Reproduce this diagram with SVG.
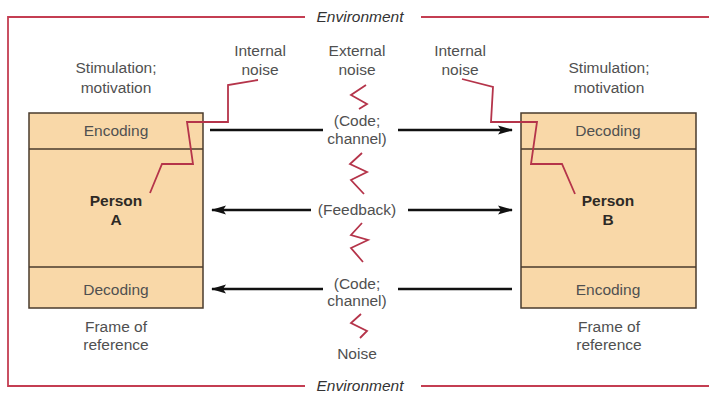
<svg xmlns="http://www.w3.org/2000/svg" width="709" height="393" viewBox="0 0 709 393">
<defs>
<style>
text{font-family:"Liberation Sans",Arial,sans-serif;font-size:15.5px;fill:#505050;text-anchor:middle}
.env{font-style:italic;fill:#333}
.bold{font-weight:bold;fill:#2e2a26}
.box{fill:#f9d8a8;stroke:#4a3b2c;stroke-width:1.5}
.div{stroke:#4a3b2c;stroke-width:1.5}
.red{fill:none;stroke:#b5344a;stroke-width:1.8;stroke-linejoin:miter}
.envl{fill:none;stroke:#c43e52;stroke-width:1.8}
.arr{stroke:#111;stroke-width:2.5;fill:none}
</style>
<marker id="ah" markerWidth="16" markerHeight="10" refX="14" refY="5" orient="auto" markerUnits="userSpaceOnUse">
<path d="M0,0.5 L15,5 L0,9.5 L3,5 z" fill="#111"/>
</marker>
</defs>
<rect width="709" height="393" fill="#fff"/>

<g id="environment">
<path class="envl" d="M305,17 L8,17 L8,386 L305,386"/>
<path class="envl" d="M421,17 L709,17"/>
<path class="envl" d="M421,386 L709,386"/>
<text class="env" x="360" y="22">Environment</text>
<text class="env" x="360" y="390.5">Environment</text>
</g>

<g id="personA">
<rect class="box" x="29" y="113" width="174" height="195"/>
<line class="div" x1="29" y1="149" x2="203" y2="149"/>
<line class="div" x1="29" y1="267" x2="203" y2="267"/>
<text x="116" y="135.5">Encoding</text>
<text class="bold" x="116" y="205.5">Person</text>
<text class="bold" x="116" y="224.5">A</text>
<text x="116" y="294.5">Decoding</text>
</g>

<g id="personB">
<rect class="box" x="521" y="113" width="175" height="195"/>
<line class="div" x1="521" y1="149" x2="696" y2="149"/>
<line class="div" x1="521" y1="267" x2="696" y2="267"/>
<text x="608" y="135.5">Decoding</text>
<text class="bold" x="608" y="205.5">Person</text>
<text class="bold" x="608" y="224.5">B</text>
<text x="608" y="294.5">Encoding</text>
</g>

<g id="labels">
<text x="116" y="72.5">Stimulation;</text>
<text x="116" y="92.5">motivation</text>
<text x="609" y="72.5">Stimulation;</text>
<text x="609" y="92.5">motivation</text>
<text x="260" y="55.5">Internal</text>
<text x="260" y="74.5">noise</text>
<text x="357" y="55.5">External</text>
<text x="357" y="74.5">noise</text>
<text x="460" y="55.5">Internal</text>
<text x="460" y="74.5">noise</text>
<text x="116" y="331.5">Frame of</text>
<text x="116" y="349.5">reference</text>
<text x="609" y="331.5">Frame of</text>
<text x="609" y="349.5">reference</text>
<text x="357" y="125.5">(Code;</text>
<text x="357" y="143.5">channel)</text>
<text x="357" y="214.5">(Feedback)</text>
<text x="357" y="288.5">(Code;</text>
<text x="357" y="305.5">channel)</text>
<text x="357" y="358.5">Noise</text>
</g>

<g id="noise">
<path class="red" d="M258,80 L228,85 L228,122 L187,122 L193,164 L162,164 L150,193"/>
<path class="red" d="M462,79 L493,87 L491,122 L537,122 L531,164 L562,164 L575,194"/>
<path class="red" d="M366,85 L351,95 L367,104 L359,109"/>
<path class="red" d="M362,153 L350,164 L367,172 L351,180 L364,194"/>
<path class="red" d="M362,223 L351,235 L368,240 L351,248 L363,262"/>
<path class="red" d="M361,314 L351,323 L367,331 L360,338"/>
</g>

<g id="connectors">
<line class="arr" x1="210" y1="130" x2="323" y2="130"/>
<line class="arr" x1="398" y1="130" x2="512" y2="130" marker-end="url(#ah)"/>
<line class="arr" x1="311" y1="210" x2="212" y2="210" marker-end="url(#ah)"/>
<line class="arr" x1="408" y1="210" x2="512" y2="210" marker-end="url(#ah)"/>
<line class="arr" x1="512" y1="289" x2="398" y2="289"/>
<line class="arr" x1="323" y1="289" x2="212" y2="289" marker-end="url(#ah)"/>
</g>
</svg>
